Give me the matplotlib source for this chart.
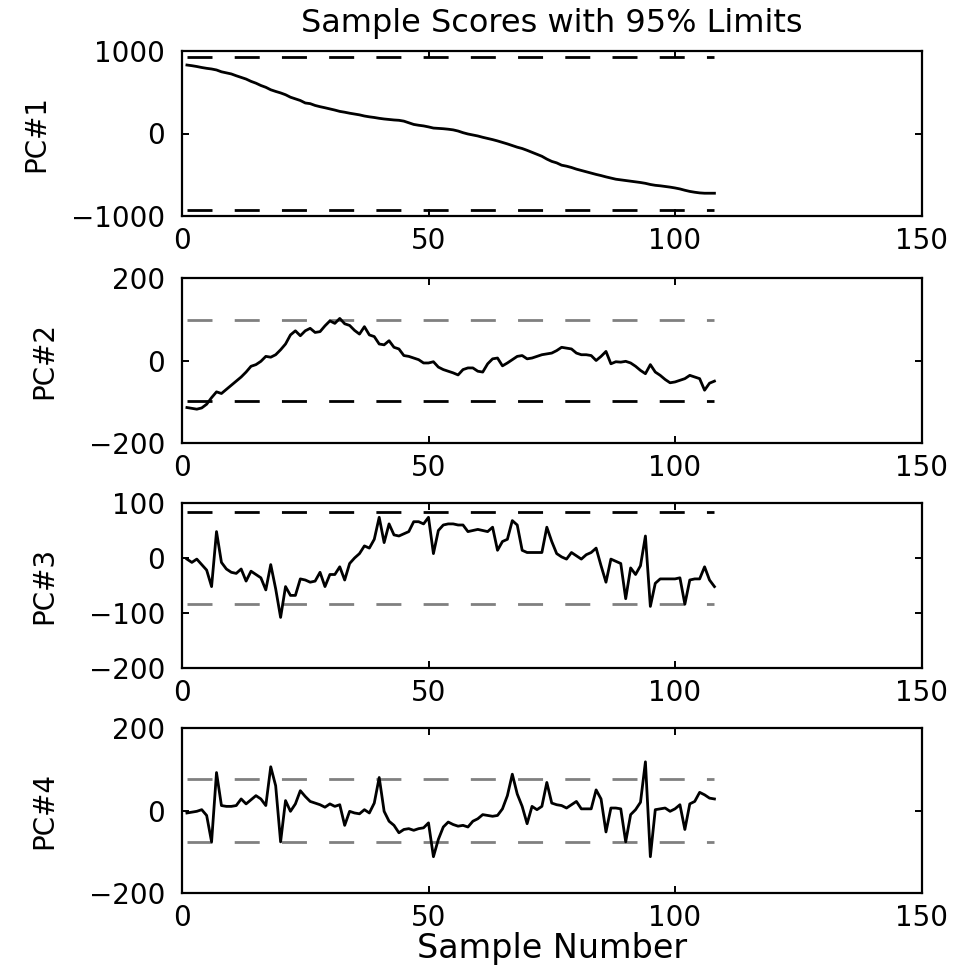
import numpy as np
import matplotlib
matplotlib.use("Agg")
import matplotlib.pyplot as plt

plt.rcParams['font.family'] = ['DejaVu Sans']

samples = np.arange(1, 109)

pc1 = [830, 822, 812, 800, 790, 782, 770, 748, 735, 722,
       700, 680, 660, 632, 610, 582, 560, 530, 510, 492,
       470, 440, 420, 400, 370, 362, 340, 325, 312, 298,
       284, 268, 258, 246, 236, 226, 212, 202, 194, 184,
       176, 170, 164, 160, 150, 130, 110, 100, 92, 80,
       66, 62, 58, 52, 44, 30, 10, -6, -18, -30,
       -46, -60, -74, -90, -108, -126, -146, -166, -182, -204,
       -228, -252, -276, -310, -338, -356, -384, -396, -412, -432,
       -448, -464, -480, -496, -510, -526, -540, -554, -562, -570,
       -578, -586, -594, -604, -618, -628, -634, -642, -650, -660,
       -672, -688, -702, -712, -720, -724, -724, -724]

pc2 = [-114, -116, -118, -115, -106, -90, -76, -80, -70, -60,
       -50, -40, -28, -14, -10, -2, 10, 8, 14, 26,
       40, 62, 72, 60, 72, 78, 68, 70, 84, 96,
       90, 102, 89, 85, 73, 64, 82, 62, 58, 40,
       38, 48, 32, 28, 12, 10, 6, 2, -6, -6,
       -3, -16, -22, -26, -30, -35, -22, -18, -18, -26,
       -28, -8, 4, 6, -13, -6, 2, 10, 12, 4,
       6, 10, 14, 16, 18, 24, 32, 30, 28, 18,
       14, 14, 12, 0, 10, 22, -8, -3, -4, -2,
       -6, -14, -24, -32, -10, -28, -36, -46, -54, -52,
       -48, -44, -36, -40, -44, -72, -55, -50]

pc3 = [-2, -8, -2, -12, -22, -52, 48, -8, -20, -26,
       -28, -20, -42, -24, -30, -36, -58, -12, -56, -108,
       -52, -68, -68, -38, -40, -44, -42, -26, -52, -30,
       -30, -16, -40, -10, 0, 8, 22, 18, 34, 74,
       28, 62, 42, 40, 44, 48, 66, 66, 62, 74,
       8, 50, 60, 62, 62, 60, 60, 48, 50, 52,
       50, 48, 56, 14, 30, 34, 68, 60, 14, 10,
       10, 10, 10, 56, 30, 8, 2, -2, 10, 4,
       -2, 6, 10, 18, -14, -44, -2, -6, -10, -74,
       -18, -30, -14, 40, -88, -46, -38, -38, -38, -38,
       -36, -84, -40, -38, -38, -16, -40, -52]

pc4 = [-6, -4, -2, 2, -12, -76, 92, 12, 10, 10,
       12, 28, 16, 26, 36, 28, 12, 106, 60, -76,
       24, -2, 16, 48, 34, 22, 18, 14, 8, 16,
       10, 14, -36, -2, -6, -8, 2, -6, 18, 80,
       -2, -26, -36, -54, -46, -44, -48, -44, -42, -30,
       -112, -70, -40, -28, -34, -38, -36, -40, -26, -20,
       -10, -12, -14, -12, 4, 36, 88, 40, 10, -32,
       10, 2, 10, 68, 18, 14, 12, 6, 14, 22,
       4, 4, 4, 50, 28, -52, 6, 6, 4, -76,
       -10, 2, 20, 118, -112, 2, 4, 6, -2, 4,
       14, -46, 16, 22, 44, 38, 30, 28]

scores = [pc1, pc2, pc3, pc4]
limits = [925, 98, 84, 77]
ylabels = ["PC#1", "PC#2", "PC#3", "PC#4"]
ylims = [(-1000, 1000), (-200, 200), (-200, 100), (-200, 200)]
yticks = [[-1000, 0, 1000], [-200, 0, 200], [-200, -100, 0, 100], [-200, 0, 200]]
xticks = [0, 50, 100, 150]
title = "Sample Scores with 95% Limits"
xlabel = "Sample Number"

limit_colors = [("black", "black"), ("#808080", "black"),
                ("black", "#808080"), ("#808080", "#808080")]

W, H = 957, 967
fig = plt.figure(figsize=(W / 100, H / 100), dpi=100)

left_px, right_px = 182, 921.5
left = left_px / W
width = (right_px - left_px) / W
ax_h = 165
tops = [51, 278, 503, 728]
label_right_px = [50, 58, 58, 58]

fs = 20
for i in range(4):
    bottom = 1 - (tops[i] + ax_h) / H
    ax = fig.add_axes([left, bottom, width, ax_h / H])
    ax.plot(samples, scores[i], color="black", lw=2.0, zorder=3)
    up_c, lo_c = limit_colors[i]
    xs = [samples[0], samples[-1]]
    ax.plot(xs, [limits[i], limits[i]], color=up_c, lw=2,
            linestyle=(0, (9, 8)), zorder=2)
    ax.plot(xs, [-limits[i], -limits[i]], color=lo_c, lw=2,
            linestyle=(0, (9, 8)), zorder=2)
    ax.set_xlim(0, 150)
    ax.set_ylim(*ylims[i])
    ax.set_xticks(xticks)
    ax.set_yticks(yticks[i])
    ax.tick_params(direction="in", length=5, width=1.4, top=True, right=True,
                   labelsize=fs)
    ax.tick_params(axis="x", pad=8)
    ax.tick_params(axis="y", pad=12)
    for sp in ax.spines.values():
        sp.set_linewidth(1.6)
    ax.set_ylabel(ylabels[i], fontsize=fs)
    ax.yaxis.set_label_coords((label_right_px[i] - left_px) / (right_px - left_px), 0.5)
    if i == 0:
        ax.set_title(title, fontsize=23, pad=14)
    if i == 3:
        ax.set_xlabel(xlabel, fontsize=24, labelpad=0)

fig.savefig("out.png", dpi=100)
